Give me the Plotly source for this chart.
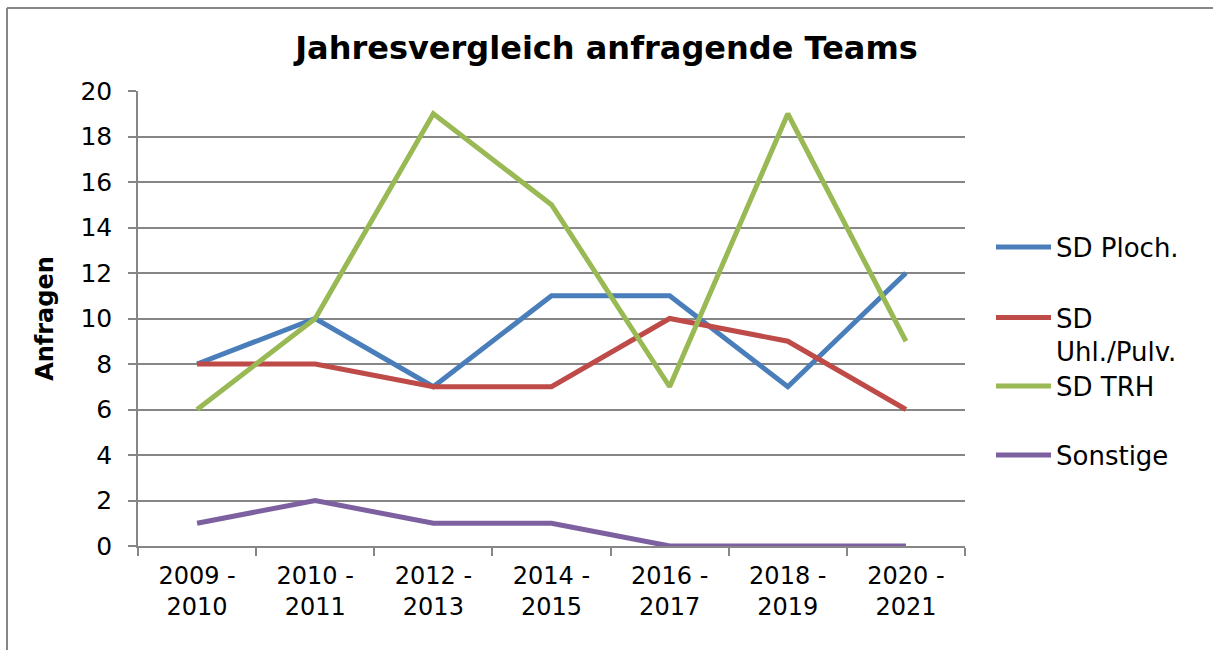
import plotly.graph_objects as go

categories = ["2009 -<br>2010", "2010 -<br>2011", "2012 -<br>2013", "2014 -<br>2015",
              "2016 -<br>2017", "2018 -<br>2019", "2020 -<br>2021"]
sd_ploch = [8, 10, 7, 11, 11, 7, 12]
sd_uhl = [8, 8, 7, 7, 10, 9, 6]
sd_trh = [6, 10, 19, 15, 7, 19, 9]
sonstige = [1, 2, 1, 1, 0, 0, 0]

series = [
    ("SD Ploch.", sd_ploch, "#4A7EBB", "legend"),
    ("SD<br>Uhl./Pulv.", sd_uhl, "#BE4B48", "legend2"),
    ("SD TRH", sd_trh, "#98B954", "legend3"),
    ("Sonstige", sonstige, "#7D60A0", "legend4"),
]

FONT = "DejaVu Sans"
GRAY = "#868686"
W, H = 1213, 650
L, R, T, B = 138, 248, 91, 104
pw, ph = W - L - R, H - T - B

def px_x(x):
    return (x - L) / pw

def px_y(y):
    return (H - B - y) / ph

fig = go.Figure()
for name, vals, color, lg in series:
    fig.add_trace(go.Scatter(x=categories, y=vals, name=name, mode="lines",
                             line=dict(color=color, width=5), legend=lg))

legend_common = dict(font=dict(family=FONT, size=26, color="black"),
                     bgcolor="rgba(0,0,0,0)", xanchor="left", itemwidth=55,
                     x=px_x(991), valign="top")
fig.update_layout(
    width=W, height=H,
    margin=dict(l=L, r=R, t=T, b=B),
    paper_bgcolor="white", plot_bgcolor="white",
    showlegend=True,
    font=dict(family=FONT, size=24, color="black"),
    title=dict(text="<b>Jahresvergleich anfragende Teams</b>", x=0.5, xanchor="center",
               y=1 - 48 / H, yanchor="middle", font=dict(family=FONT, size=32)),
    legend=dict(**legend_common, y=px_y(247), yanchor="middle"),
    legend2=dict(**legend_common, y=px_y(294), yanchor="top"),
    legend3=dict(**legend_common, y=px_y(386), yanchor="middle"),
    legend4=dict(**legend_common, y=px_y(455), yanchor="middle"),
    xaxis=dict(type="category", range=[-0.5, 6.5], showgrid=False, showline=True,
               linecolor=GRAY, linewidth=1.5, ticks="outside", tickson="boundaries",
               ticklen=8, tickcolor=GRAY, tickwidth=1.5, zeroline=False,
               tickfont=dict(family=FONT, size=24), ticklabelstandoff=7),
    yaxis=dict(range=[0, 20], dtick=2, showgrid=True, gridcolor=GRAY, gridwidth=1.5,
               showline=True, linecolor=GRAY, linewidth=1.5, ticks="outside",
               ticklen=8, tickcolor=GRAY, tickwidth=1.5, zeroline=False,
               tickfont=dict(family=FONT, size=25), ticklabelstandoff=11,
               title=dict(text="<b>Anfragen</b>", font=dict(family=FONT, size=24),
                          standoff=20)),
)

# outer chart frame (left and top edges visible in the reference)
fig.add_shape(type="line", xref="paper", yref="paper", x0=px_x(7), x1=px_x(7),
              y0=px_y(8), y1=px_y(H + 5), line=dict(color=GRAY, width=2))
fig.add_shape(type="line", xref="paper", yref="paper", x0=px_x(7), x1=px_x(W + 5),
              y0=px_y(8), y1=px_y(8), line=dict(color=GRAY, width=2))

fig.write_html("out.html", config={"displayModeBar": False},
               post_script="document.body.style.margin='0px';")
